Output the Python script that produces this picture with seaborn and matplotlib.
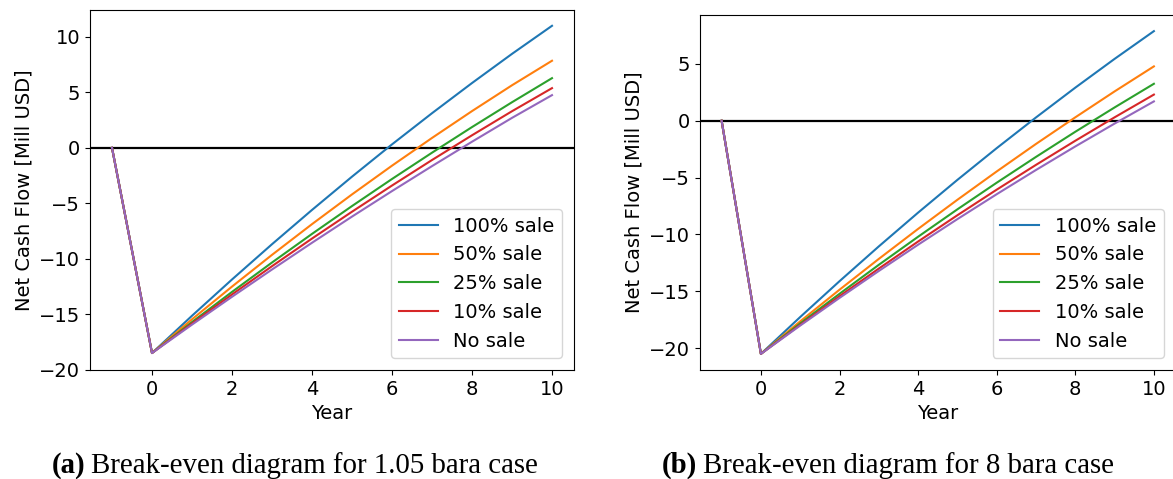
import matplotlib
matplotlib.use("Agg")
import matplotlib.pyplot as plt
import seaborn as sns

# Project timeline: construction year -1, operation from year 0 to 10
years = [-1, 0, 1, 2, 3, 4, 5, 6, 7, 8, 9, 10]
scenarios = ["100% sale", "50% sale", "25% sale", "10% sale", "No sale"]

# Cumulative net cash flow [Mill USD], 1.05 bara case
low_100 = [0, -18.5, -15.14, -11.87, -8.69, -5.60, -2.60, 0.31, 3.12, 5.84, 8.47, 11.0]
low_50 = [0, -18.5, -15.46, -12.51, -9.65, -6.88, -4.20, -1.61, 0.89, 3.31, 5.64, 7.85]
low_25 = [0, -18.5, -15.71, -12.99, -10.34, -7.76, -5.25, -2.81, -0.44, 1.87, 4.11, 6.28]
low_10 = [0, -18.5, -15.83, -13.22, -10.67, -8.18, -5.76, -3.40, -1.10, 1.13, 3.30, 5.38]
low_0 = [0, -18.5, -15.94, -13.43, -10.97, -8.56, -6.20, -3.90, -1.65, 0.55, 2.70, 4.75]

# Cumulative net cash flow [Mill USD], 8 bara case
high_100 = [0, -20.5, -17.26, -14.11, -11.05, -8.08, -5.20, -2.41, 0.29, 2.91, 5.44, 7.88]
high_50 = [0, -20.5, -17.64, -14.86, -12.15, -9.51, -6.95, -4.46, -2.04, 0.30, 2.58, 4.78]
high_25 = [0, -20.5, -17.82, -15.22, -12.67, -10.20, -7.79, -5.45, -3.18, -0.97, 1.17, 3.25]
high_10 = [0, -20.5, -17.94, -15.43, -13.00, -10.62, -8.31, -6.06, -3.88, -1.76, 0.30, 2.30]
high_0 = [0, -20.5, -18.01, -15.58, -13.21, -10.90, -8.65, -6.46, -4.33, -2.26, -0.25, 1.70]

captions = [("(a)", "Break-even diagram for 1.05 bara case"),
            ("(b)", "Break-even diagram for 8 bara case")]

plt.rcParams["font.family"] = ["DejaVu Sans"]
plt.rcParams["font.size"] = 14

W, H = 1173, 479
fig = plt.figure(figsize=(W / 100, H / 100), dpi=100)
fig.patch.set_facecolor("white")

def px_rect(left, top, right, bottom):
    return [left / W, (H - bottom) / H, (right - left) / W, (bottom - top) / H]

ax_a = fig.add_axes(px_rect(90, 9.5, 574, 370))
ax_b = fig.add_axes(px_rect(700, 15, 1175.5, 370))

palette = sns.color_palette("tab10", 5)

def draw_panel(ax, series):
    ax.axhline(0, color="black", lw=1.6, zorder=1)
    for name, vals, col in zip(scenarios, series, palette):
        sns.lineplot(x=years, y=vals, ax=ax, color=col, label=name,
                     lw=1.5, estimator=None, sort=False)
    ax.set_xlabel("Year", fontsize=14)
    ax.set_ylabel("Net Cash Flow [Mill USD]", fontsize=14)
    ax.set_xticks([0, 2, 4, 6, 8, 10])
    ax.tick_params(labelsize=14)
    ax.legend(loc="lower right", fontsize=14, borderaxespad=0.6)

draw_panel(ax_a, [low_100, low_50, low_25, low_10, low_0])
draw_panel(ax_b, [high_100, high_50, high_25, high_10, high_0])
ax_a.set_ylim(-20.03, 12.47)
ax_a.set_yticks([10, 5, 0, -5, -10, -15, -20])
ax_b.set_yticks([5, 0, -5, -10, -15, -20])

# Sub-figure captions: bold tag followed by regular text
fig.canvas.draw()
renderer = fig.canvas.get_renderer()
serif = ["Liberation Serif", "DejaVu Serif"]
for (tag, text), x0 in zip(captions, [51.5, 662]):
    t = fig.text(x0 / W, 6 / H, tag, family=serif, fontsize=20.8,
                 fontweight="bold", ha="left", va="baseline")
    bb = t.get_window_extent(renderer)
    fig.text((bb.x1 + 6) / W, 6 / H, text, family=serif, fontsize=20.8,
             ha="left", va="baseline")

fig.savefig("out.png", dpi=100, facecolor="white")
